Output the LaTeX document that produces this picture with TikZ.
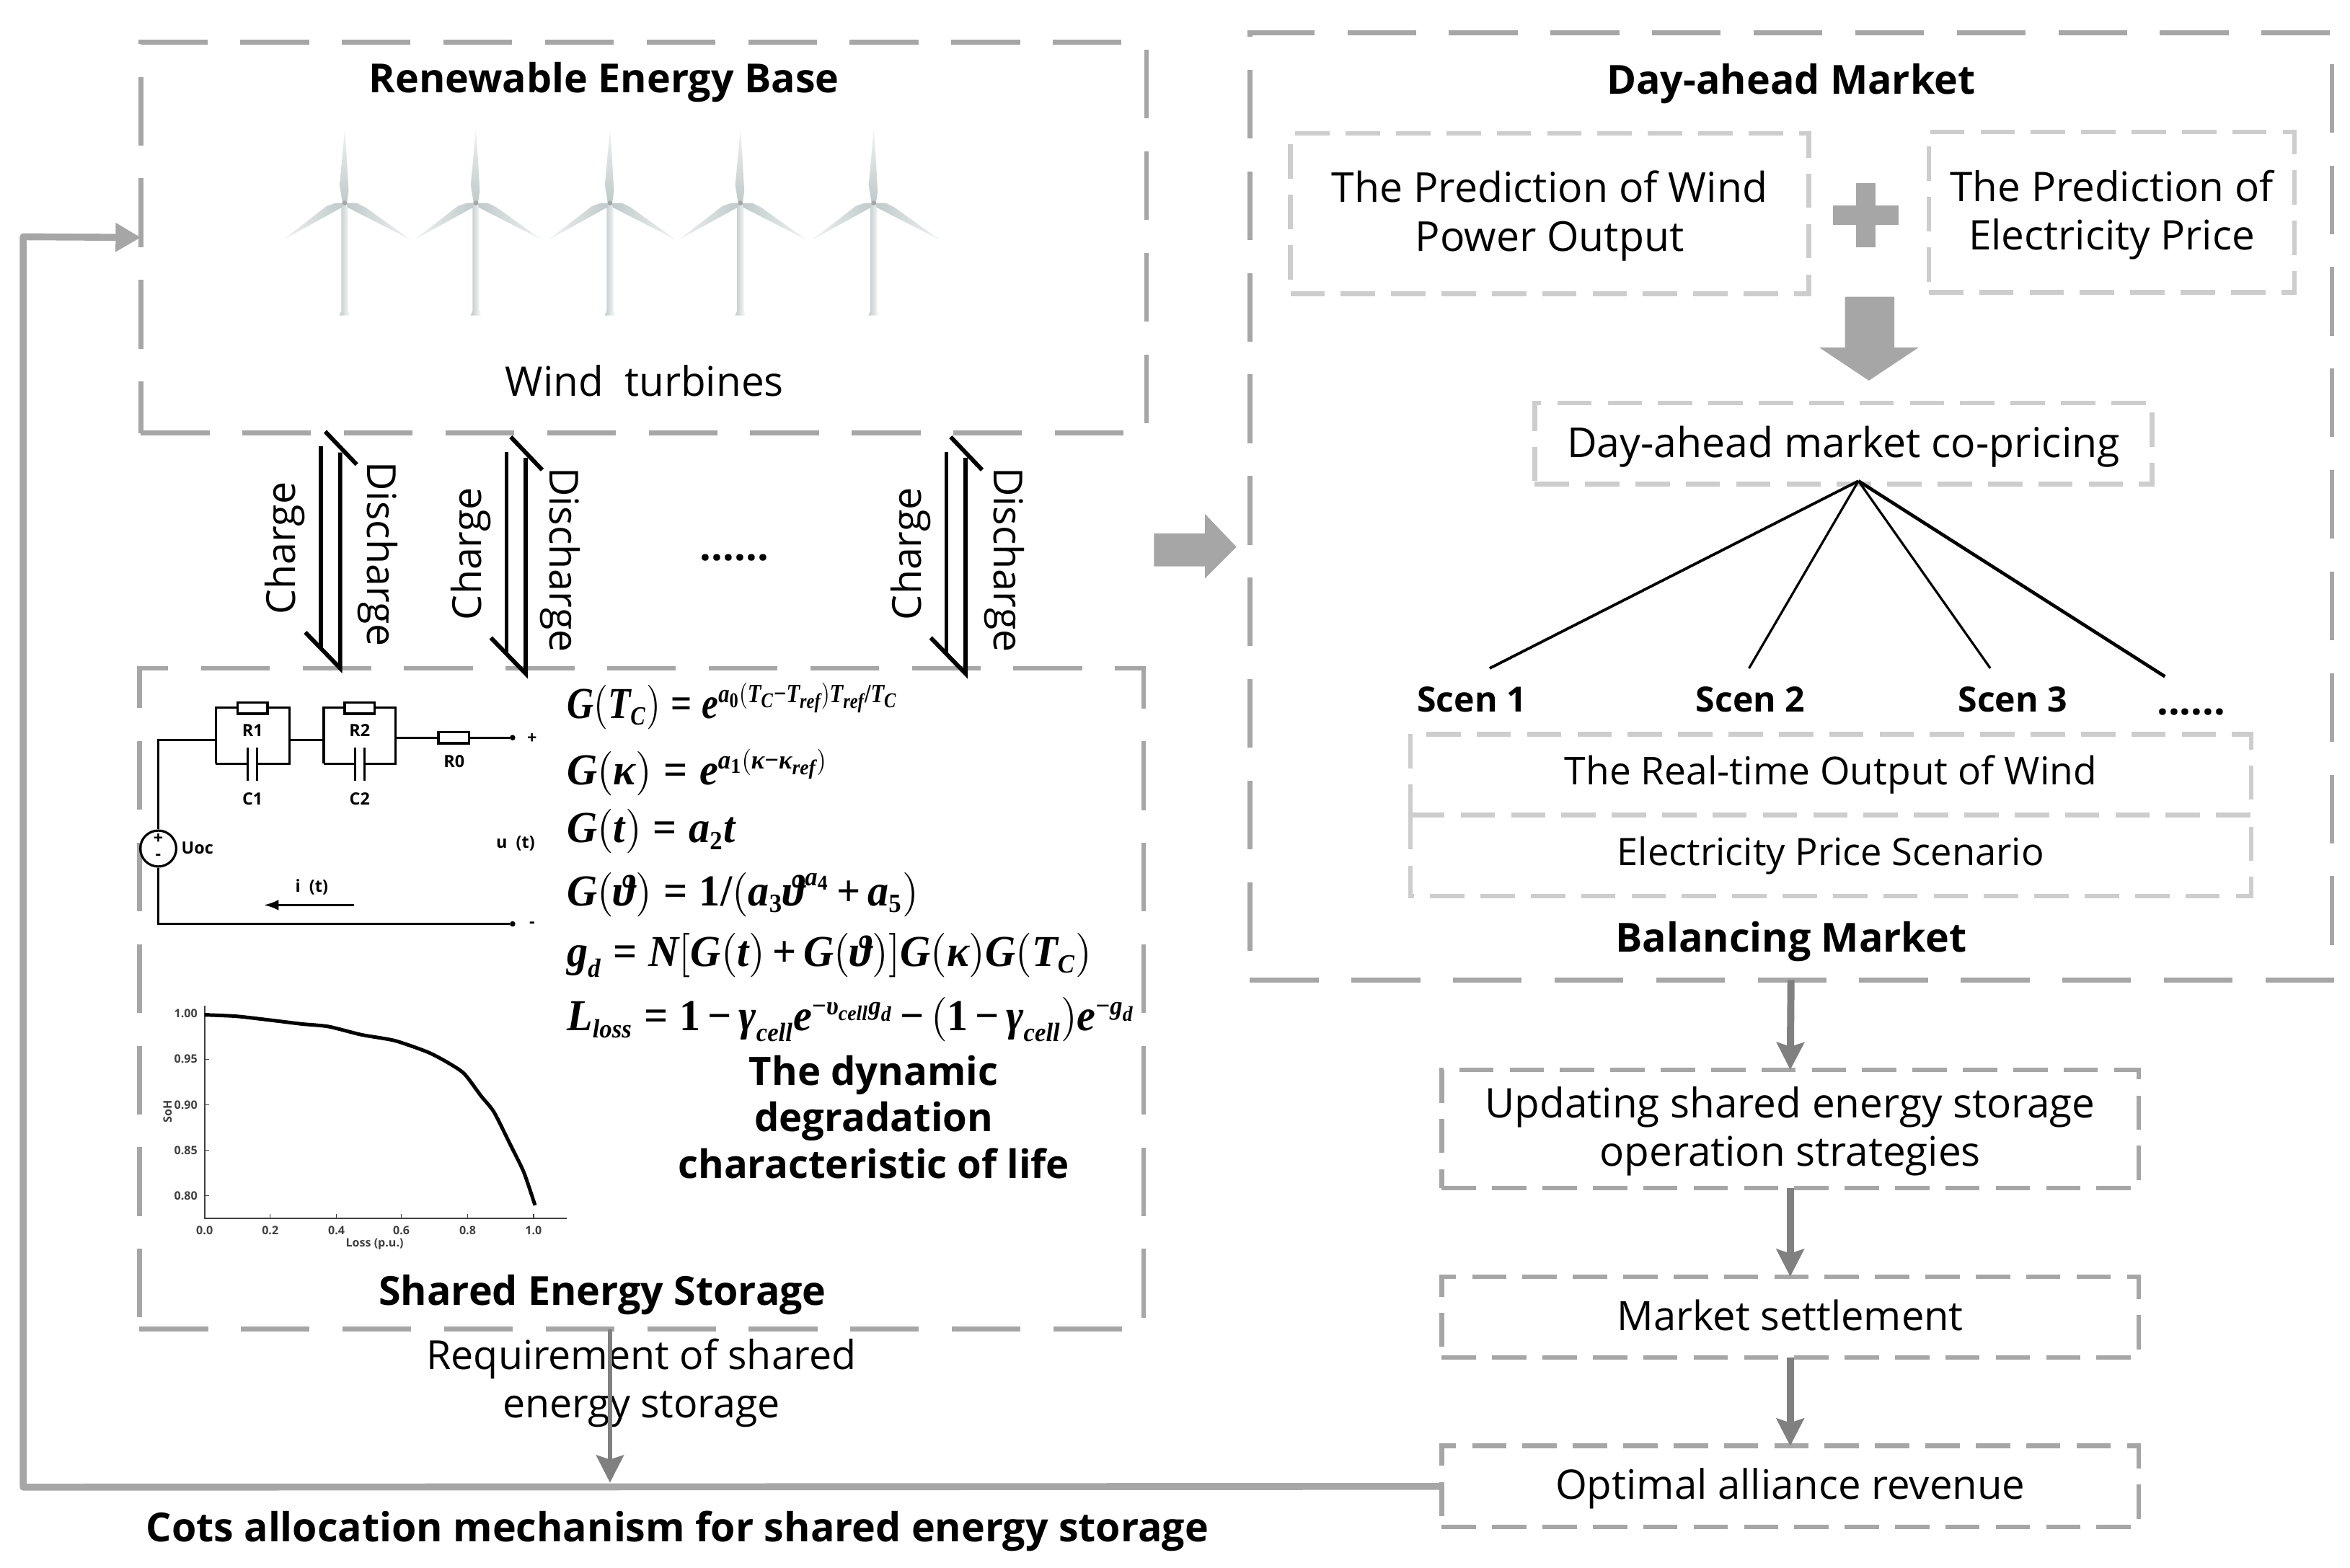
\documentclass[tikz,border=0pt]{standalone}
\usepackage{amsmath}
\usepackage{mathptmx}
\usepackage[no-math]{fontspec}
\setmainfont{Open Sans}
\newfontfamily\eqfont{Liberation Serif}
\usetikzlibrary{arrows.meta}
\definecolor{darkline}{HTML}{A6A6A6}
\definecolor{lightline}{HTML}{CDCDCD}
\definecolor{midarrow}{HTML}{808080}
\definecolor{bladegray}{HTML}{BFCACA}
\DeclareMathSizes{21}{21}{12.5}{10}
\newcommand{\un}{0.25mm}
\newcommand{\txtsize}{\fontsize{19}{22.6}\selectfont}
\newcommand{\mathsize}{\fontsize{21}{25}\selectfont\thickmuskip=5mu \medmuskip=3mu }
\newcommand{\bi}[1]{\text{\eqfont\bfseries\itshape #1}}
\newcommand{\br}[1]{\text{\eqfont\bfseries #1}}
\newcommand{\eqs}{\mathrel{\br{=}}}
\newcommand{\mns}{\mathbin{\br{−}}}
\newcommand{\pls}{\mathbin{\br{+}}}
\tikzset{
	outerbox/.style={draw=darkline,line width=2.3pt,dash pattern=on 32.6pt off 15.6pt,inner sep=0,outer sep=0},
	innerbox/.style={draw=lightline,line width=2.2pt,dash pattern=on 16.3pt off 7.6pt,inner sep=0,outer sep=0},
	stepbox/.style={draw=darkline,line width=2.2pt,dash pattern=on 16.3pt off 7.6pt,inner sep=0,outer sep=0},
	title/.style={font=\txtsize\bfseries,align=center,inner sep=0},
	scentitle/.style={font=\fontsize{16.5}{20}\selectfont\bfseries,inner sep=0},
	plain/.style={font=\txtsize,align=center,inner sep=0},
	formula/.style={anchor=base west,inner sep=0,xscale=0.95,font=\mathsize},
	tiny/.style={font=\fontsize{8}{9}\selectfont\bfseries,inner sep=0},
	ticktext/.style={font=\fontsize{5.5}{6}\selectfont\bfseries,text=black!75,inner sep=0},
	flow/.style={draw=midarrow,line width=3.4pt,-{Stealth[inset=2pt,length=13pt,width=13pt]}},
	backflow/.style={draw=darkline,line width=3.3pt,line join=round,-{Triangle[length=12pt,width=13pt]}},
	harp/.style={line width=2pt,black},
	wire/.style={line width=1.1pt,black}
}
\begin{document}
\begin{tikzpicture}[x=\un,y=-\un]
	\useasboundingbox (0,0) rectangle (1568,1046);
	
	% left panels
	\node[outerbox,minimum width=671*\un,minimum height=261*\un] (base) at (429.5,158.5) {};
	\node[outerbox,minimum width=670*\un,minimum height=441*\un] (storage) at (428,666.5) {};
	\node[title] (basetitle) at (403,55) {Renewable Energy Base};
	\node[plain,scale=1.02] (windlabel) at (430,254) {Wind\ \ turbines};
	\node[title] (storagetitle) at (402,864) {Shared Energy Storage};
	
	% wind turbines
	\foreach \tx in {230,317.5,407,494,583} {
		\begin{scope}[shift={(\tx,135.5)}]
			\shade[left color=bladegray,right color=white!90!bladegray] (-2.2,0) -- (-1.5,0) -- (1.5,0) -- (2.2,0) -- (2.2,72) -- (3.5,75) -- (-3.5,75) -- (-2.2,72) -- cycle;
			\shade[top color=bladegray!25,bottom color=bladegray] (0,-49) -- (1.4,-30) -- (2.6,-8) -- (1.5,0) -- (-1.5,0) -- (-3.4,-12) -- cycle;
			\shade[left color=bladegray!25,right color=bladegray] (-41,24.5) -- (-12,2) -- (-6,0) -- (-1,0) -- (-2,3) -- cycle;
			\shade[left color=bladegray,right color=bladegray!25] (44,24.5) -- (14,3) -- (8,0) -- (1,0) -- (2,3) -- cycle;
			\fill[gray!70] (0,0) circle (1.6);
		\end{scope}
	}
	
	% charge and discharge
	\foreach \n/\hx/\hy/\cx/\dx in {a/227/0/190/252,b/350.8/3.6/314/374,c/644.3/3.6/607.5/670} {
		\coordinate (\n top) at (\hx,302+\hy);
		\coordinate (\n tip) at (\hx,446+\hy);
		\coordinate (\n left) at (\hx-12.8,298+\hy);
		\coordinate (\n join) at (\hx-12.8,432+\hy);
		\coordinate (\n barb) at (\hx-23.3,422+\hy);
		\coordinate (\n upa) at (\hx-10,288+\hy);
		\coordinate (\n upb) at (\hx+11,310+\hy);
		\draw[harp] (\n top) -- (\n tip) -- (\n barb);
		\draw[harp] (\n left) -- (\n join);
		\draw[harp] (\n upa) -- (\n upb);
		\node[plain,rotate=90] (charge\n) at (\cx,366+\hy) {Charge};
		\node[plain,rotate=-90] (discharge\n) at (\dx,370+\hy) {Discharge};
	}
	\node[title] (middots) at (490,372) {......};
	
	% circuit
	\node[draw=black,wire,circle,minimum size=24*\un,inner sep=0] (uoc) at (105.6,566.3) {};
	\node[tiny] (uocplus) at (105.6,560) {+};
	\node[tiny] (uocminus) at (105.6,572) {-};
	\draw[wire] (uoc.north) -- (105.6,493.7) -- (144,493.7);
	\draw[wire] (uoc.south) -- (105.6,616.6) -- (340,616.6);
	\draw[wire] (193,493.7) -- (216,493.7);
	\draw[wire] (264,492.3) -- (340,492.3);
	\foreach \ax/\bx/\mx/\lab/\cap in {144/193/168.5/R1/C1,216/264/240/R2/C2} {
		\draw[wire] (\ax,509.7) -- (\ax,472.4) -- (\bx,472.4) -- (\bx,509.7) -- (\mx+3.2,509.7);
		\draw[wire] (\ax,509.7) -- (\mx-3.2,509.7);
		\draw[wire] (\mx-3.2,499) -- (\mx-3.2,521);
		\draw[wire] (\mx+3.2,499) -- (\mx+3.2,521);
		\draw[wire,fill=white] (\mx-10,468.8) rectangle (\mx+10,476.3);
		\node[tiny] (\lab) at (\mx,487.6) {\lab};
		\node[tiny] (\cap) at (\mx,533) {\cap};
	}
	\draw[wire,fill=white] (292.5,488.6) rectangle (312.9,496);
	\draw[wire,fill=white] (342,492.3) circle (1);
	\draw[wire,fill=white] (342,616.6) circle (1);
	\node[tiny] (r0) at (303,508) {R0};
	\node[tiny] (uoclabel) at (131.7,566) {Uoc};
	\node[tiny] (ulabel) at (344,563) {u\ \ (t)};
	\node[tiny] (ilabel) at (208,592) {i\ \ (t)};
	\node[tiny] (posend) at (355,493) {+};
	\node[tiny] (negend) at (355,617) {-};
	\draw[wire,-{Latex[length=7pt,width=5pt]}] (236,604) -- (176,604);
	
	% degradation curve
	\draw[line width=0.8pt,black!75] (136.5,671) -- (136.5,813) -- (378,813);
	\foreach \ty/\tlab in {676.5/1.00,706.9/0.95,737.3/0.90,767.6/0.85,798/0.80} {
		\draw[line width=0.5pt,black!75] (136.5,\ty) -- (139.5,\ty);
		\node[ticktext,anchor=east] at (132,\ty) {\tlab};
	}
	\foreach \tx/\tlab in {136.5/0.0,180.3/0.2,224.5/0.4,267.8/0.6,312/0.8,356/1.0} {
		\draw[line width=0.5pt,black!75] (\tx,813) -- (\tx,810);
		\node[ticktext] at (\tx,821) {\tlab};
	}
	\node[ticktext] (losslabel) at (250,830.3) {Loss (p.u.)};
	\node[ticktext,rotate=90] (sohlabel) at (111.8,742) {SoH};
	\draw[line width=1.7pt,black] plot[smooth,tension=0.4] coordinates {(136.5,677.3) (157.3,678.2) (179.4,680.7) (201.5,683.4) (219.2,685.1) (241.3,690.6) (263.4,694.5) (285.5,702.2) (298.7,709.1) (309.8,716.6) (320.8,731.2) (329.6,742.2) (340.7,764.3) (349.5,782.3) (357,804.4)};
	
	% formulas
	\node[formula,xscale=0.88] (eqa) at (378,479.5) {$\bi{G}(\bi{T}_{\bi{C}})\eqs\bi{e}^{\bi{a}_{\br{0}}(\bi{T}_{\bi{C}}\mns\bi{T}_{\bi{ref}})\bi{T}_{\bi{ref}}\br{/}\bi{T}_{\bi{C}}}$};
	\node[formula] (eqb) at (378,523.7) {$\bi{G}(\bi{κ})\eqs\bi{e}^{\bi{a}_{\br{1}}(\bi{κ}\mns\bi{κ}_{\bi{ref}})}$};
	\node[formula] (eqc) at (378,562.4) {$\bi{G}(\bi{t})\eqs\bi{a}_{\br{2}}\bi{t}$};
	\node[formula] (eqd) at (378,604.6) {$\bi{G}(\bi{ϑ})\eqs\br{1}\br{/}(\bi{a}_{\br{3}}\bi{ϑ}^{\bi{a}_{\br{4}}}\pls\bi{a}_{\br{5}})$};
	\node[formula] (eqe) at (378,645) {$\bi{g}_{\bi{d}}\eqs\bi{N}[\bi{G}(\bi{t})\pls\bi{G}(\bi{ϑ})]\bi{G}(\bi{κ})\bi{G}(\bi{T}_{\bi{C}})$};
	\node[formula] (eqf) at (378,688) {$\bi{L}_{\bi{loss}}\eqs\br{1}\mns\bi{γ}_{\bi{cell}}\bi{e}^{\mns\bi{υ}_{\bi{cell}}\bi{g}_{\bi{d}}}\mns(\br{1}\mns\bi{γ}_{\bi{cell}})\bi{e}^{\mns\bi{g}_{\bi{d}}}$};
	\node[title,scale=0.98] (lifetext) at (583,745.5) {The dynamic\\degradation\\characteristic of life};
	
	% day-ahead market
	\node[outerbox,minimum width=722*\un,minimum height=632*\un] (market) at (1195,338) {};
	\node[title] (markettitle) at (1195,56) {Day-ahead Market};
	\node[innerbox,minimum width=346*\un,minimum height=107*\un] (predwind) at (1034,142.5) {};
	\node[plain,scale=1.03] (predwindtext) at (1034,144) {The Prediction of Wind\\Power Output};
	\node[innerbox,minimum width=244*\un,minimum height=107*\un] (predprice) at (1409,141.5) {};
	\node[plain,scale=1.02] (predpricetext) at (1409,143.5) {The Prediction of\\Electricity Price};
	\fill[darkline] (1238.5,122) rectangle (1251.5,165);
	\fill[darkline] (1223,137) rectangle (1267,150);
	\fill[darkline] (1231,198) -- (1264,198) -- (1264,232) -- (1280,232) -- (1247,254) -- (1214,232) -- (1231,232) -- cycle;
	\node[innerbox,minimum width=412*\un,minimum height=54*\un] (copricing) at (1230,296) {};
	\node[plain,scale=1.03] (copricingtext) at (1230,298) {Day-ahead market co-pricing};
	
	\coordinate (apex) at (1240,321);
	\coordinate (fana) at (994,446);
	\coordinate (fanb) at (1167,446);
	\coordinate (fanc) at (1328,446);
	\coordinate (fand) at (1444.5,451.5);
	\draw[line width=1.3pt] (apex) -- (fana);
	\draw[line width=1.1pt] (apex) -- (fanb);
	\draw[line width=1.1pt] (apex) -- (fanc);
	\draw[line width=1.6pt] (apex) -- (fand);
	\node[scentitle] (scena) at (982,467) {Scen 1};
	\node[scentitle] (scenb) at (1168,467) {Scen 2};
	\node[scentitle] (scenc) at (1343,467) {Scen 3};
	\node[title] (scend) at (1462,475) {......};
	\node[innerbox,minimum width=561*\un,minimum height=54*\un] (realtime) at (1221.5,517) {};
	\node[plain,scale=0.96] (realtimetext) at (1221.5,517) {The Real-time Output of Wind};
	\node[inner sep=0,outer sep=0,minimum width=561*\un,minimum height=54*\un] (scenario) at (1221.5,571) {};
	\draw[innerbox] (scenario.north west) -- (scenario.south west) -- (scenario.south east) -- (scenario.north east);
	\node[plain,scale=0.945] (scenariotext) at (1221.5,571) {Electricity Price Scenario};
	\node[title] (balancing) at (1195,628.5) {Balancing Market};
	
	% settlement chain
	\node[stepbox,minimum width=465*\un,minimum height=79*\un] (updating) at (1194.5,753.5) {};
	\node[plain,scale=1.02] (updatingtext) at (1194.5,755) {Updating shared energy storage\\operation strategies};
	\node[stepbox,minimum width=465*\un,minimum height=54*\un] (settlement) at (1194.5,879) {};
	\node[plain,scale=1.01] (settlementtext) at (1194.5,878) {Market settlement};
	\node[stepbox,minimum width=465*\un,minimum height=54*\un] (revenue) at (1194.5,992) {};
	\node[plain,scale=1.015] (revenuetext) at (1194.5,993.5) {Optimal alliance revenue};
	\draw[flow] (market.south) -- (updating.north);
	\draw[flow] (updating.south) -- (settlement.north);
	\draw[flow] (settlement.south) -- (revenue.north);
	
	% big arrow between the markets
	\fill[darkline] (770,356) -- (804,356) -- (804,343) -- (825,365) -- (804,386) -- (804,378) -- (770,378) -- cycle;
	
	% cost allocation
	\node[plain] (requirement) at (428,923) {Requirement of shared\\energy storage};
	\node[title] (costs) at (452,1022) {Cots allocation mechanism for shared energy storage};
	\coordinate (feedback) at (407,989.5);
	\draw[backflow] (revenue.west) -- (15.5,992.5) -- (15.5,158) -- (base.west);
	\draw[draw=midarrow,line width=2.3pt,-{Stealth[inset=2pt,length=13pt,width=13pt]}] (storage.south -| feedback) -- (feedback);
\end{tikzpicture}
\end{document}
